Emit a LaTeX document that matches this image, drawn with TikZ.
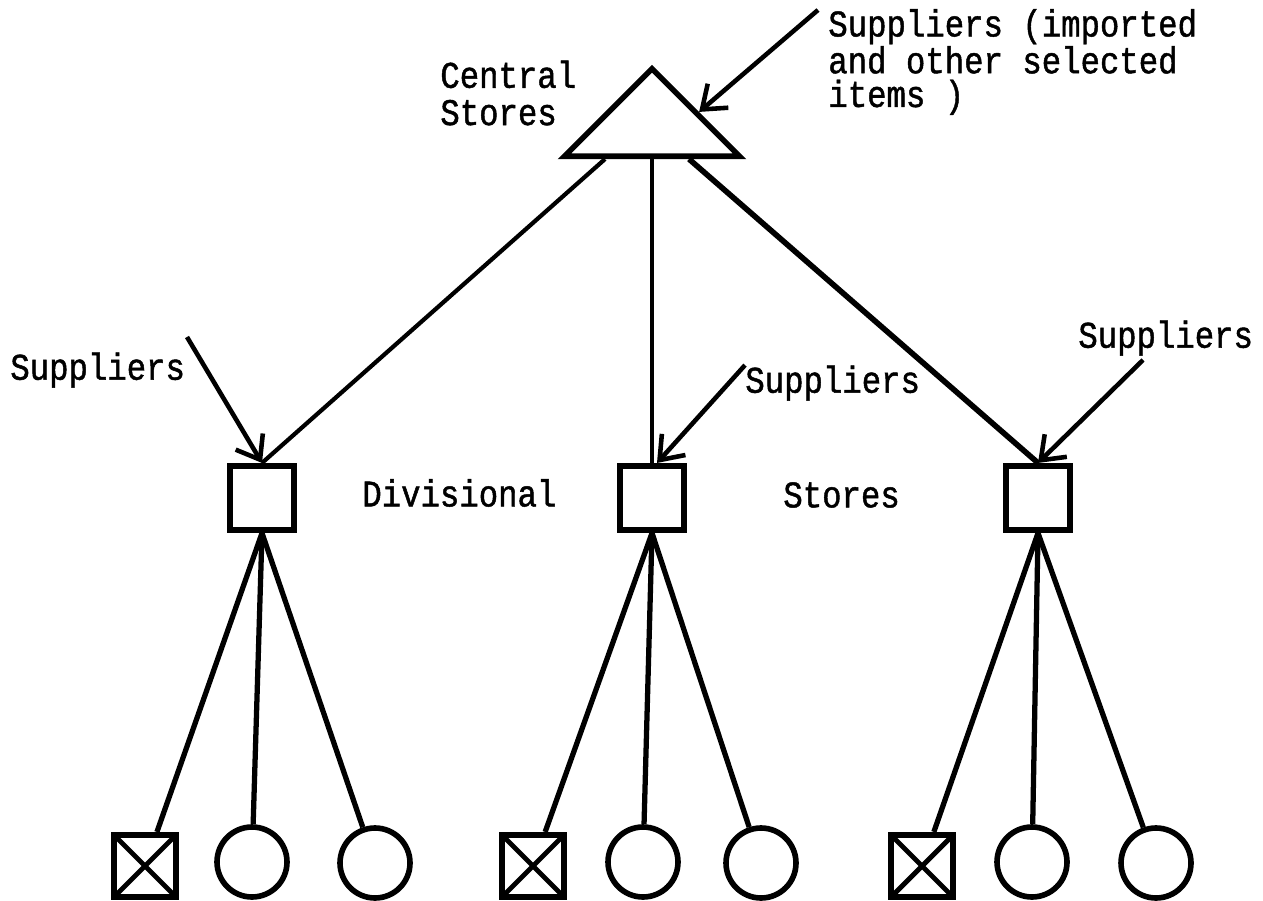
\documentclass[tikz,border=0pt]{standalone}
\usepackage{fontspec}
\newfontfamily\typewriter[FakeStretch=0.86,FakeBold=1.2]{Liberation Mono}
\usetikzlibrary{arrows.meta,positioning,shapes.geometric}

\begin{document}
\begin{tikzpicture}[x=0.02cm,y=-0.02cm,
  typed/.style={font=\typewriter\fontsize{21.4}{19.2}\selectfont, inner sep=0pt, align=left},
  divbox/.style={draw, line width=3.2pt, minimum size=1.29cm, inner sep=0pt},
  crossbox/.style={draw, line width=3.2pt, minimum size=1.25cm, inner sep=0pt,
    path picture={\draw[line width=2.8pt]
      (path picture bounding box.north west) -- (path picture bounding box.south east)
      (path picture bounding box.south west) -- (path picture bounding box.north east);}},
  roundbox/.style={draw, circle, line width=3.2pt, minimum size=1.4cm, inner sep=0pt},
  feed/.style={line width=3pt},
  supply/.style={line width=2.6pt, -{Straight Barb[length=12pt,width=18pt]}}
]
  \useasboundingbox (0,0) rectangle (1263,901);

  % Central stores
  \node[draw, isosceles triangle, shape border rotate=90, isosceles triangle apex angle=90,
        line width=3.2pt, minimum height=1.75cm, inner sep=0pt] (cs) at (652,120) {};
  \node[typed, anchor=west] (cslab) at (440,93) {Central\\[2pt]Stores};
  \node[typed, anchor=west] (supcs) at (828,62) {Suppliers (imported\\and other selected\\items )};
  \coordinate (supcsend) at (818,10);
  \draw[supply] (supcsend) -- (cs.right side);

  % Divisional stores
  \node[divbox] (ds1) at (262,498) {};
  \node[divbox] (ds2) at (652,498) {};
  \node[divbox] (ds3) at (1038,498) {};
  \node[typed, anchor=west] (divlab) at (362,493) {Divisional};
  \node[typed, anchor=west] (storlab) at (783,495) {Stores};

  \draw[line width=2.4pt] ([xshift=-0.94cm]cs.south) -- (ds1.north);
  \draw[line width=2pt] (cs.south) -- (ds2.north);
  \draw[line width=3.2pt] ([xshift=0.74cm]cs.south) -- (ds3.north);

  % Local suppliers
  \node[typed, anchor=west] (sup1) at (10,370) {Suppliers};
  \node[typed, anchor=west] (sup2) at (745,383) {Suppliers};
  \node[typed, anchor=west] (sup3) at (1078,338) {Suppliers};
  \coordinate (sup1end) at (187,337);
  \coordinate (sup3end) at (1143,360);
  \draw[supply] (sup1end) -- (ds1.north);
  \draw[supply] (sup2.north west) -- ([xshift=0.1cm]ds2.north);
  \draw[supply] (sup3end) -- (ds3.north);

  % Outlets under each division
  \node[crossbox] (x1) at (145,866) {};
  \node[roundbox] (c1a) at (252,862) {};
  \node[roundbox] (c1b) at (375,863) {};
  \node[crossbox] (x2) at (533,866) {};
  \node[roundbox] (c2a) at (643,862) {};
  \node[roundbox] (c2b) at (761,863) {};
  \node[crossbox] (x3) at (922,866) {};
  \node[roundbox] (c3a) at (1032,862) {};
  \node[roundbox] (c3b) at (1156,863) {};

  \draw[feed] (ds1.south) -- (x1);
  \draw[feed] (ds1.south) -- (c1a);
  \draw[feed] (ds1.south) -- (c1b);
  \draw[feed] (ds2.south) -- (x2);
  \draw[feed] (ds2.south) -- (c2a);
  \draw[feed] (ds2.south) -- (c2b);
  \draw[feed] (ds3.south) -- (x3);
  \draw[feed] (ds3.south) -- (c3a);
  \draw[feed] (ds3.south) -- (c3b);
\end{tikzpicture}
\end{document}
